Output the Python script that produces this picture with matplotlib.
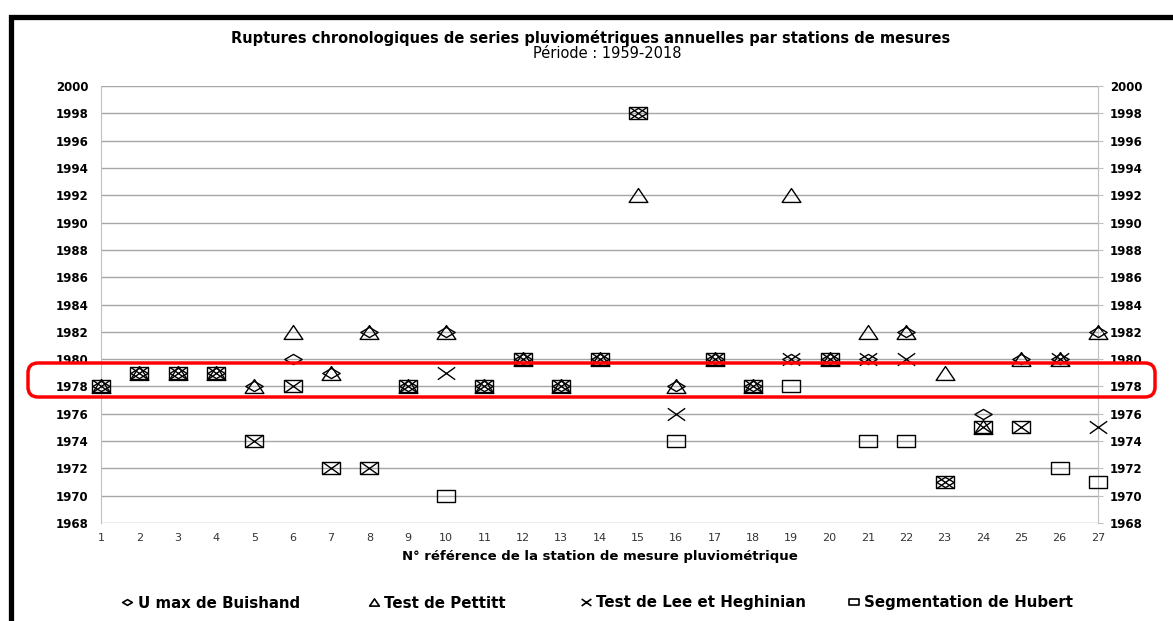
import numpy as np
import matplotlib.pyplot as plt
from matplotlib.path import Path
from matplotlib.patches import Rectangle, FancyBboxPatch
from matplotlib.lines import Line2D

plt.rcParams['font.family'] = ['Liberation Sans Narrow', 'DejaVu Sans']

# data
stations = list(range(1, 28))
buishand = [1978, 1979, 1979, 1979, 1978, 1980, 1979, 1982, 1978, 1982, 1978, 1980, 1978, 1980,
            1998, 1978, 1980, 1978, 1980, 1980, 1980, 1982, 1971, 1976, 1980, 1980, 1982]
pettitt = [1978, 1979, 1979, 1979, 1978, 1982, 1979, 1982, 1978, 1982, 1978, 1980, 1978, 1980,
           1992, 1978, 1980, 1978, 1992, 1980, 1982, 1982, 1979, 1975, 1980, 1980, 1982]
lee = [1978, 1979, 1979, 1979, 1974, 1978, 1972, 1972, 1978, 1979, 1978, 1980, 1978, 1980,
       1998, 1976, 1980, 1978, 1980, 1980, 1980, 1980, 1971, 1975, 1975, 1980, 1975]
hubert = [1978, 1979, 1979, 1979, 1974, 1978, 1972, 1972, 1978, 1970, 1978, 1980, 1978, 1980,
          1998, 1974, 1980, 1978, 1978, 1980, 1974, 1974, 1971, 1975, 1975, 1972, 1971]
labels = ['U max de Buishand', 'Test de Pettitt', 'Test de Lee et Heghinian', 'Segmentation de Hubert']
yticks = list(range(1968, 2001, 2))

# stretched marker shapes (excel-like)
m_diamond = Path([(0, 1), (1.7, 0), (0, -1), (-1.7, 0), (0, 1)], closed=True)
m_tri = Path([(-1.35, -1), (1.35, -1), (0, 1), (-1.35, -1)], closed=True)
m_x = Path([(-1.4, -1), (1.4, 1), (-1.4, 1), (1.4, -1)],
           [Path.MOVETO, Path.LINETO, Path.MOVETO, Path.LINETO])
m_rect = Path([(-1.4, -1), (1.4, -1), (1.4, 1), (-1.4, 1), (-1.4, -1)], closed=True)

fig = plt.figure(figsize=(11.73, 6.21), dpi=100)
ax = fig.add_axes([101/1173, 1 - 523/621, (1098 - 101)/1173, (523 - 86)/621])

series = [(buishand, m_diamond, 12.5), (pettitt, m_tri, 13.5), (lee, m_x, 12.5), (hubert, m_rect, 12.5)]
handles = []
for (vals, mk, ms), lab in zip(series, labels):
    ax.plot(stations, vals, linestyle='none', marker=mk, markersize=ms, markerfacecolor='none',
            markeredgecolor='black', markeredgewidth=1.0, clip_on=False, zorder=3)
    handles.append(Line2D([], [], linestyle='none', marker=mk, markersize=7, markerfacecolor='none',
                          markeredgecolor='black', markeredgewidth=1.2))

ax.set_xlim(1, 27)
ax.set_ylim(1968, 2000)
ax.set_xticks(stations)
ax.set_xticklabels([str(s) for s in stations], fontsize=8, family='DejaVu Sans', color='#333333')
ax.set_yticks(yticks)
ax.set_yticklabels([str(y) for y in yticks], fontsize=8.5, family='DejaVu Sans', fontweight='bold')
ax.tick_params(axis='x', length=0, pad=7)
ax.tick_params(axis='y', length=0, pad=9)
ax.grid(axis='y', color='#a6a6a6', linewidth=1)
ax.set_axisbelow(True)
for s in ['top', 'bottom']:
    ax.spines[s].set_visible(False)
for s in ['left', 'right']:
    ax.spines[s].set_color('#c0c0c0')

ax2 = ax.twinx()
ax2.set_ylim(1968, 2000)
ax2.set_yticks(yticks)
ax2.set_yticklabels([str(y) for y in yticks], fontsize=8.5, family='DejaVu Sans', fontweight='bold')
ax2.tick_params(axis='y', length=3.5, color='#c0c0c0', pad=5)
for s in ['top', 'bottom', 'left', 'right']:
    ax2.spines[s].set_visible(False)

ax.set_xlabel('N° référence de la station de mesure pluviométrique', fontsize=9.5,
              fontweight='bold', labelpad=5)

fig.text(591/1173, 1 - 38/621, 'Ruptures chronologiques de series pluviométriques annuelles par stations de mesures',
         ha='center', va='center', fontsize=10.5, fontweight='bold')
fig.text(607/1173, 1 - 54/621, 'Période : 1959-2018', ha='center', va='center', fontsize=10.5)

# legend entries placed like the reference
leg_x = [121, 368, 580, 848]
for h, lab, xp in zip(handles, labels, leg_x):
    leg = fig.legend([h], [lab], loc='center left', bbox_to_anchor=(xp/1173, 1 - 603/621),
                     frameon=False, prop={'size': 10.8, 'weight': 'bold'}, handlelength=0.8,
                     handletextpad=0.3, borderpad=0, borderaxespad=0)

# black outer frame (cut by the image edge)
fig.patches.append(Rectangle((10.5/1173, -0.2), 1.5, 1.2 - 17/621, transform=fig.transFigure,
                             fill=False, edgecolor='black', linewidth=3.8, zorder=0))
# red highlight box
fig.patches.append(FancyBboxPatch((0.28, (621 - 397)/100), 11.55 - 0.28, 0.34,
                                  boxstyle='round,pad=0,rounding_size=0.1',
                                  transform=fig.dpi_scale_trans, fill=False,
                                  edgecolor='#ff0000', linewidth=2.5, zorder=5))

fig.savefig('out.png', dpi=100)
